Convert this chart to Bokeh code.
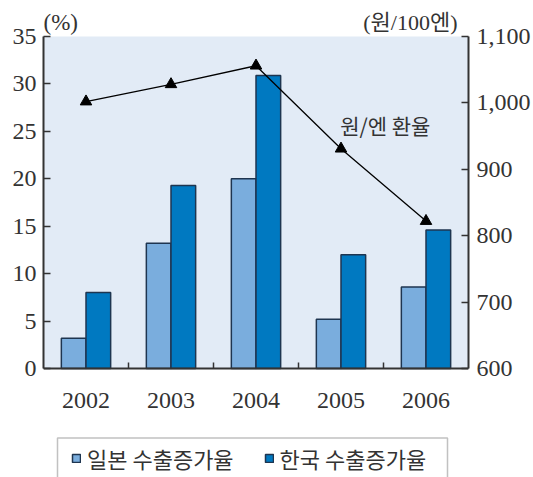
import numpy as np
from bokeh.plotting import figure
from bokeh.models import (Range1d, LinearAxis, FixedTicker, NumeralTickFormatter,
                          Label, Legend, LegendItem, BoxAnnotation)
from bokeh.embed import file_html
from bokeh.resources import INLINE

# ---- data ----
years = ["2002", "2003", "2004", "2005", "2006"]
japan_growth = [3.2, 13.2, 20.0, 5.2, 8.6]      # 일본 수출증가율 (%)
korea_growth = [8.0, 19.3, 30.9, 12.0, 14.6]    # 한국 수출증가율 (%)
won_per_100yen = [1002, 1028, 1056, 931, 822]   # 원/엔 환율 (원/100엔)
left_ticks = [0, 5, 10, 15, 20, 25, 30, 35]
right_ticks = [600, 700, 800, 900, 1000, 1100]

SERIF = "Liberation Serif"
KR = "Noto Sans CJK KR"
TXT = "#333333"
AX = "#333333"

# layout: the frame covers the full canvas height; the plot area sits inside it
CANVAS_H = 477
FRAME_L, FRAME_W = 43, 425
PX_TOP = 36            # where 35 % / 1,100 sit
PX_ZERO = 368          # where the x axis sits
L_MIN, L_MAX, R_MIN, R_MAX = 0, 35, 600, 1100
lu = (L_MAX - L_MIN) / (PX_ZERO - PX_TOP)
ru = (R_MAX - R_MIN) / (PX_ZERO - PX_TOP)
left_range = Range1d(L_MIN - (CANVAS_H - PX_ZERO) * lu, L_MAX + PX_TOP * lu)
right_range = Range1d(R_MIN - (CANVAS_H - PX_ZERO) * ru, R_MAX + PX_TOP * ru)

def px_to_x(px):
    return (px - FRAME_L) / FRAME_W * len(years)

def px_to_y(py):
    return L_MIN - (py - PX_ZERO) * lu

idx = np.arange(len(years))
centers = idx + 0.5
bar_w = 0.29

p = figure(frame_width=FRAME_W, frame_height=CANVAS_H,
           min_border_left=FRAME_L, min_border_right=62,
           min_border_top=0, min_border_bottom=0,
           x_range=Range1d(0, len(years)), y_range=left_range,
           output_backend="svg", toolbar_location=None,
           x_axis_type=None, y_axis_type=None)
p.extra_y_ranges = {"won": right_range}
p.background_fill_color = "white"
p.border_fill_color = "white"
p.outline_line_color = None
p.grid.visible = False

p.add_layout(BoxAnnotation(left=0, right=len(years), bottom=L_MIN, top=L_MAX,
                           fill_color="#e2ebf6", fill_alpha=1, line_color=None,
                           level="underlay"))

r_jp = p.vbar(x=centers - bar_w / 2, top=japan_growth, bottom=0, width=bar_w,
              fill_color="#7aaddd", line_color="#1e3550", line_width=1.5)
r_kr = p.vbar(x=centers + bar_w / 2, top=korea_growth, bottom=0, width=bar_w,
              fill_color="#0079c1", line_color="#1e3550", line_width=1.5)

p.line(centers, won_per_100yen, y_range_name="won", line_color="black", line_width=1.3)
p.scatter(centers, won_per_100yen, y_range_name="won", marker="triangle",
          size=11.5, fill_color="black", line_color="black")

# x axis, drawn at y = 0 inside the frame
xaxis = LinearAxis(ticker=FixedTicker(ticks=list(centers), minor_ticks=[1, 2, 3, 4]),
                   major_label_overrides={float(c): y for c, y in zip(centers, years)},
                   fixed_location=L_MIN)
xaxis.major_tick_line_color = None
xaxis.minor_tick_in = 6
xaxis.minor_tick_out = 0
xaxis.minor_tick_line_color = AX
xaxis.minor_tick_line_width = 1.5
xaxis.axis_line_color = AX
xaxis.axis_line_width = 2
xaxis.major_label_standoff = 18
xaxis.major_label_text_font = SERIF
xaxis.major_label_text_font_size = "24px"
xaxis.major_label_text_color = TXT
p.add_layout(xaxis, "below")

# left axis
yl = LinearAxis(ticker=FixedTicker(ticks=left_ticks), bounds=(L_MIN, L_MAX))
yl.major_tick_in = 7
yl.major_tick_out = 0
yl.minor_tick_line_color = None
yl.major_tick_line_color = AX
yl.major_tick_line_width = 1.5
yl.axis_line_color = AX
yl.axis_line_width = 2
yl.major_label_standoff = 7
yl.major_label_text_font = SERIF
yl.major_label_text_font_size = "24px"
yl.major_label_text_color = TXT
p.add_layout(yl, "left")

# right axis
yr = LinearAxis(y_range_name="won", ticker=FixedTicker(ticks=right_ticks),
                formatter=NumeralTickFormatter(format="0,0"), bounds=(R_MIN, R_MAX))
yr.major_tick_in = 7
yr.major_tick_out = 0
yr.minor_tick_line_color = None
yr.major_tick_line_color = AX
yr.major_tick_line_width = 1.5
yr.axis_line_color = AX
yr.axis_line_width = 2
yr.major_label_standoff = 8
yr.major_label_text_font = SERIF
yr.major_label_text_font_size = "24px"
yr.major_label_text_color = TXT
p.add_layout(yr, "right")

# unit labels
p.add_layout(Label(x=0, y=L_MAX, text="(%)", text_align="left", text_baseline="bottom",
                   y_offset=2, text_font=f"{SERIF}, {KR}", text_font_size="23px",
                   text_color=TXT))
p.add_layout(Label(x=len(years), y=L_MAX, text="(원/100엔)", text_align="right",
                   text_baseline="bottom", x_offset=-11, y_offset=2,
                   text_font=f"{SERIF}, {KR}", text_font_size="22px", text_color=TXT))
p.add_layout(Label(x=3.49, y=967, y_range_name="won", text="원/엔 환율",
                   text_align="left", text_baseline="middle",
                   text_font=KR, text_font_size="21px", text_color=TXT))

# legend frame (runs off the bottom edge, as in the original)
p.add_layout(BoxAnnotation(left=px_to_x(57), right=px_to_x(447),
                           top=px_to_y(437.5), bottom=px_to_y(CANVAS_H + 20),
                           fill_color="white", fill_alpha=1,
                           line_color=AX, line_width=1.5))

legend = Legend(items=[LegendItem(label="일본 수출증가율", renderers=[r_jp]),
                       LegendItem(label="한국 수출증가율", renderers=[r_kr])],
                orientation="horizontal", location=(75 - 4 - FRAME_L, 1),
                glyph_width=10, glyph_height=10, label_standoff=6,
                spacing=30, padding=4, margin=0, label_height=36,
                border_line_color=None, background_fill_alpha=0,
                label_text_font=KR, label_text_font_size="22px",
                label_text_color=TXT)
p.add_layout(legend, "center")

open("out.html", "w").write(file_html(p, INLINE))
